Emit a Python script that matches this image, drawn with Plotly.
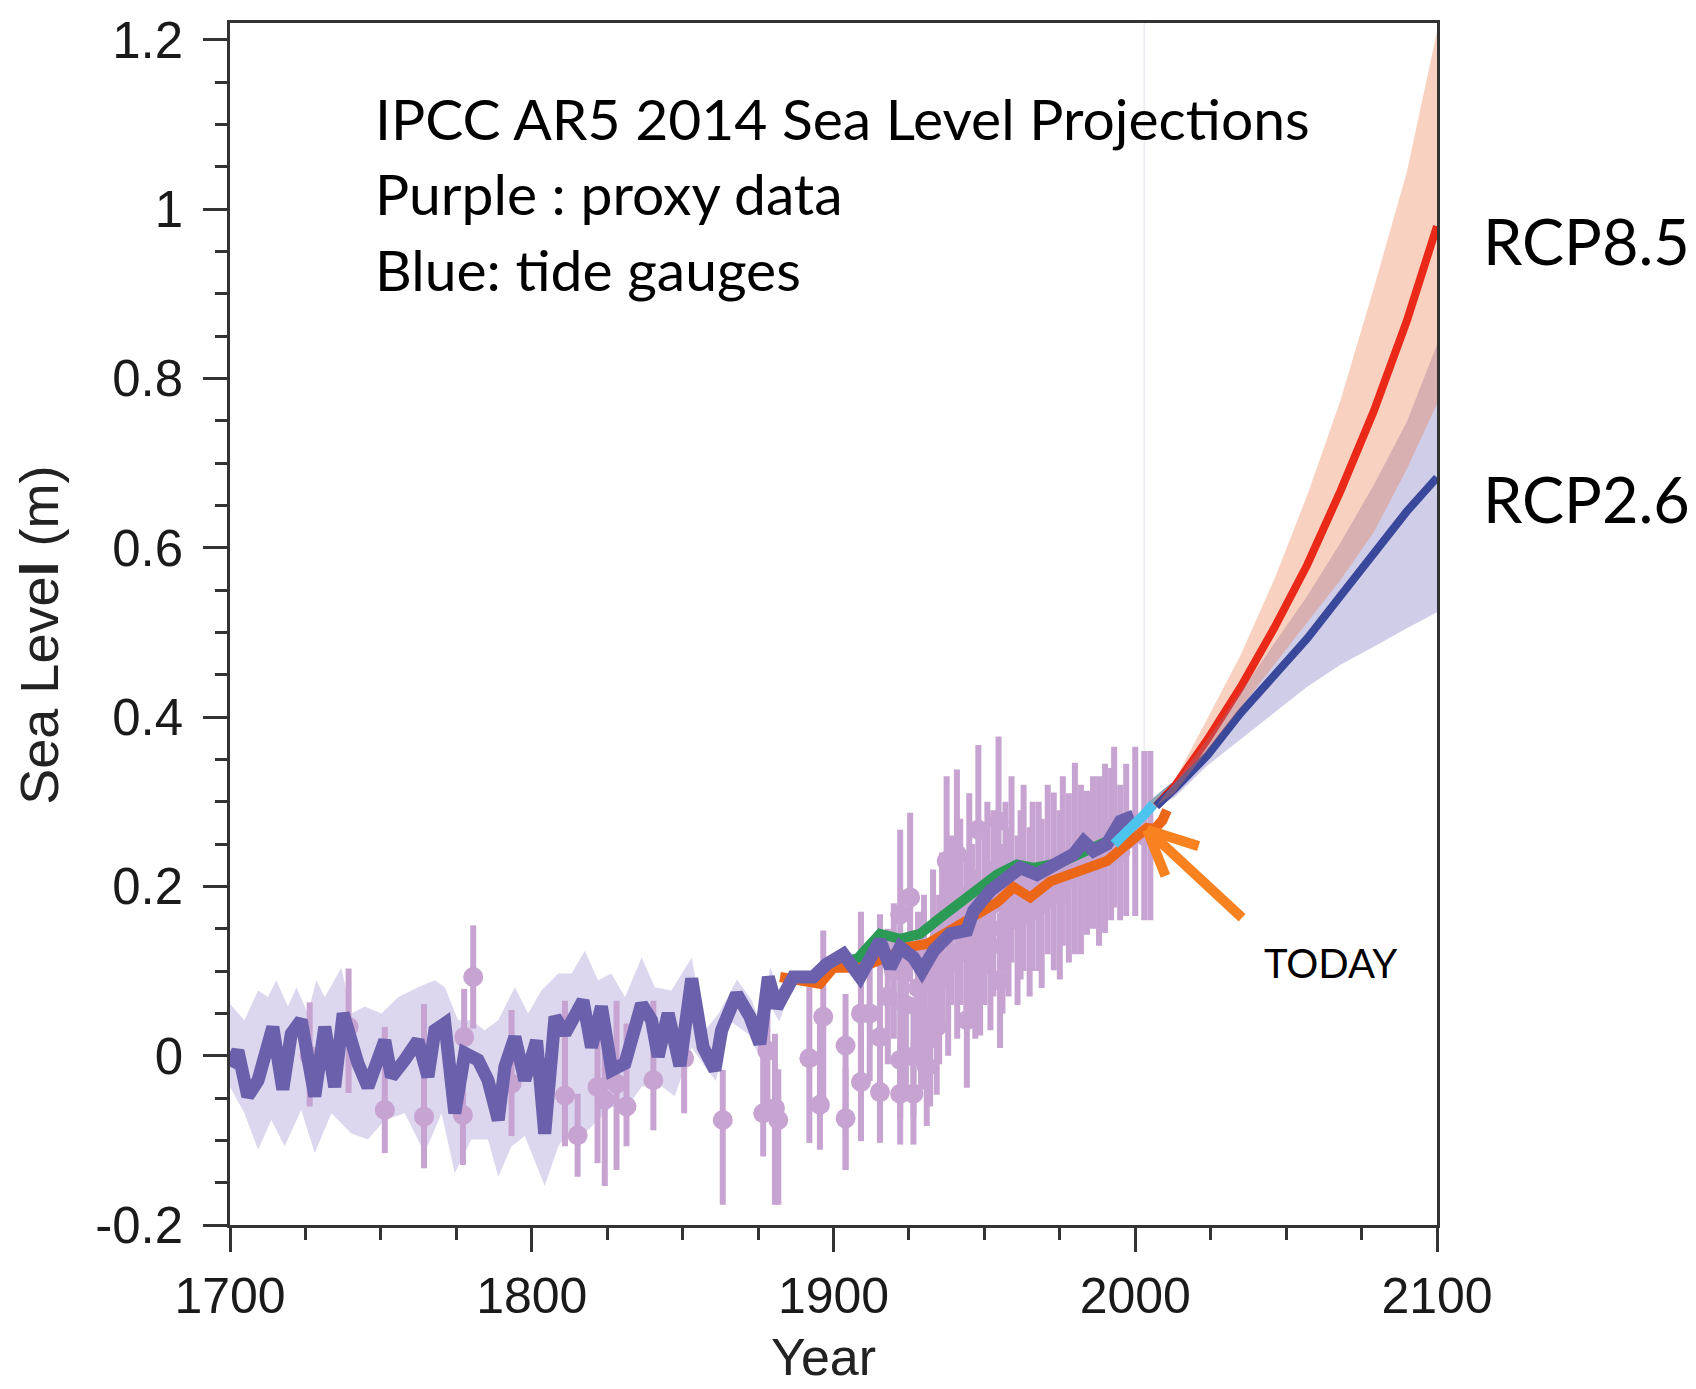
import plotly.graph_objects as go

# ---------------- data ----------------
# Reconstructed sea level (purple line)
recon_year = [1700.0, 1702.6, 1705.9, 1709.3, 1714.2, 1717.5, 1720.3, 1723.6, 1728.1, 1731.4,
              1734.7, 1737.5, 1742.4, 1745.7, 1751.3, 1753.5, 1757.9, 1762.3, 1765.6, 1767.9,
              1771.2, 1774.5, 1777.8, 1782.2, 1785.5, 1788.9, 1791.1, 1794.4, 1797.7, 1801.6,
              1804.3, 1807.7, 1811.0, 1817.0, 1819.8, 1823.1, 1826.5, 1830.9, 1836.4, 1839.7,
              1841.9, 1845.2, 1849.1, 1853.0, 1856.8, 1860.7, 1862.9, 1867.9, 1872.3, 1875.6,
              1878.4, 1881.2, 1886.7, 1893.3, 1897.7, 1903.3, 1908.8, 1915.4, 1918.8, 1922.1,
              1926.5, 1929.3, 1933.2, 1938.7, 1944.2, 1946.4, 1952.0, 1957.5, 1961.9, 1967.4,
              1973.0, 1979.6, 1982.9, 1986.2, 1990.6, 1995.1, 1999.5]
recon_sl = [-0.013, 0.006, -0.048, -0.029, 0.034, -0.040, 0.026, 0.042, -0.048, 0.034,
            -0.037, 0.050, -0.009, -0.037, 0.018, -0.025, -0.005, 0.018, -0.025, 0.030,
            0.038, -0.068, 0.003, -0.005, -0.029, -0.076, -0.013, 0.022, -0.029, 0.018,
            -0.092, 0.046, 0.026, 0.065, 0.010, 0.058, -0.017, -0.009, 0.061, 0.042,
            -0.001, 0.050, -0.012, 0.091, 0.010, -0.017, 0.030, 0.073, 0.046, 0.014,
            0.093, 0.057, 0.093, 0.093, 0.108, 0.120, 0.093, 0.136, 0.104, 0.128,
            0.116, 0.100, 0.124, 0.144, 0.148, 0.171, 0.195, 0.210, 0.222, 0.214,
            0.226, 0.238, 0.253, 0.242, 0.250, 0.277, 0.283]

# Uncertainty band of the reconstruction
band_up_year = [1700.0, 1704.8, 1709.3, 1712.6, 1715.3, 1719.2, 1722.0, 1725.8, 1728.6, 1731.4,
                1736.9, 1740.2, 1744.6, 1750.2, 1755.7, 1762.3, 1767.9, 1771.2, 1775.6, 1780.0,
                1784.4, 1788.9, 1794.4, 1798.8, 1803.2, 1808.8, 1813.2, 1817.6, 1822.0, 1826.4,
                1830.9, 1836.4, 1840.8, 1846.3, 1853.0, 1857.4, 1862.0, 1868.0, 1873.0, 1876.0,
                1879.0, 1882.0, 1886.0]
band_up = [0.061, 0.042, 0.077, 0.069, 0.089, 0.058, 0.081, 0.050, 0.089, 0.069,
           0.104, 0.050, 0.058, 0.050, 0.069, 0.081, 0.089, 0.081, 0.042, 0.042,
           0.030, 0.042, 0.081, 0.050, 0.077, 0.097, 0.097, 0.124, 0.089, 0.097,
           0.069, 0.116, 0.081, 0.077, 0.116, 0.030, 0.050, 0.090, 0.065, 0.035,
           0.105, 0.075, 0.100]
band_lo_year = [1700.0, 1704.8, 1709.3, 1713.7, 1718.1, 1723.6, 1728.1, 1733.6, 1740.2, 1745.7,
                1751.3, 1757.9, 1764.5, 1770.1, 1774.5, 1780.0, 1785.5, 1788.9, 1793.3, 1797.7,
                1804.3, 1808.8, 1813.2, 1817.6, 1822.0, 1826.4, 1830.9, 1836.4, 1841.9, 1847.4,
                1853.0, 1857.4, 1861.0, 1866.0, 1872.0, 1876.0, 1879.0, 1882.0, 1886.0]
band_lo = [-0.037, -0.068, -0.111, -0.076, -0.107, -0.064, -0.115, -0.068, -0.092, -0.099,
           -0.076, -0.068, -0.115, -0.068, -0.139, -0.099, -0.099, -0.143, -0.107, -0.095,
           -0.154, -0.107, -0.084, -0.092, -0.076, -0.060, -0.064, -0.037, -0.033, -0.048,
           0.010, -0.013, -0.030, 0.040, 0.025, -0.005, 0.060, 0.040, 0.080]

# Proxy data (salt-marsh etc.) with error bars
proxy_year = [1726.4, 1739.3, 1751.3, 1764.3, 1777.2, 1777.6, 1780.6, 1793.3, 1811.0, 1815.2,
              1821.8, 1824.2, 1828.1, 1831.4, 1840.3, 1850.5,
              1863.3, 1876.7, 1878.1, 1880.6, 1881.7, 1892.0, 1895.5, 1896.6, 1904.0, 1904.0,
              1909.1, 1909.1, 1912.0, 1915.4, 1915.4, 1918.0, 1920.0, 1922.1, 1922.1, 1922.1,
              1924.0, 1925.4, 1926.5, 1926.5, 1928.0, 1929.0, 1930.0, 1930.9, 1932.0, 1933.0,
              1934.2, 1935.0, 1936.0, 1937.5, 1938.0, 1939.0, 1940.9, 1941.0, 1942.0, 1944.0,
              1944.2, 1945.0, 1946.0, 1947.0, 1948.0, 1948.6, 1950.0, 1951.0, 1952.0, 1953.0,
              1954.7, 1955.2, 1956.0, 1957.0, 1958.0, 1959.0, 1961.0, 1962.0, 1963.0, 1965.0,
              1966.0, 1968.0, 1969.0, 1971.0, 1973.0, 1975.0, 1976.0, 1978.0, 1980.0, 1982.0,
              1984.0, 1986.0, 1988.0, 1990.0, 1992.0, 1993.0, 1995.0, 1997.0, 2000.0, 2003.0,
              2005.0]
proxy_sl = [0.000, 0.034, -0.064, -0.072, -0.070, 0.022, 0.093, -0.033, -0.047, -0.094,
            -0.037, -0.052, -0.033, -0.060, -0.029, -0.003,
            -0.076, -0.068, 0.006, -0.062, -0.076, -0.003, -0.058, 0.046, 0.012, -0.074,
            0.050, -0.031, 0.050, 0.022, -0.043, 0.070, 0.100, -0.005, -0.045, 0.167,
            0.060, 0.187, -0.001, -0.045, 0.080, 0.050, 0.100, -0.013, 0.020, 0.120,
            0.034, 0.090, 0.140, 0.230, 0.110, 0.160, 0.238, 0.120, 0.170, 0.140,
            0.042, 0.190, 0.150, 0.120, 0.267, 0.104, 0.160, 0.200, 0.130, 0.180,
            0.277, 0.089, 0.150, 0.200, 0.170, 0.220, 0.160, 0.190, 0.210, 0.170,
            0.200, 0.200, 0.180, 0.220, 0.206, 0.190, 0.230, 0.210, 0.233, 0.220,
            0.228, 0.240, 0.230, 0.245, 0.250, 0.270, 0.240, 0.255, 0.265, 0.260,
            0.260]
proxy_err_up = [0.063, 0.069, 0.098, 0.133, 0.096, 0.057, 0.061, 0.087, 0.112, 0.049,
                0.055, 0.062, 0.098, 0.098, 0.094, 0.045,
                0.059, 0.086, 0.059, 0.088, 0.060, 0.084, 0.100, 0.102, 0.061, 0.060,
                0.120, 0.060, 0.080, 0.145, 0.060, 0.080, 0.080, 0.070, 0.060, 0.100,
                0.080, 0.100, 0.070, 0.060, 0.090, 0.090, 0.090, 0.070, 0.080, 0.100,
                0.080, 0.100, 0.100, 0.100, 0.110, 0.100, 0.100, 0.100, 0.110, 0.100,
                0.080, 0.120, 0.100, 0.100, 0.100, 0.080, 0.100, 0.100, 0.100, 0.110,
                0.100, 0.080, 0.100, 0.100, 0.100, 0.110, 0.100, 0.100, 0.110, 0.100,
                0.100, 0.100, 0.100, 0.100, 0.105, 0.100, 0.100, 0.100, 0.113, 0.100,
                0.085, 0.090, 0.100, 0.100, 0.090, 0.095, 0.080, 0.090, 0.100, 0.100,
                0.100]
proxy_err_dn = [0.060, 0.078, 0.051, 0.061, 0.059, 0.050, 0.061, 0.062, 0.060, 0.049,
                0.090, 0.102, 0.102, 0.047, 0.059, 0.065,
                0.100, 0.051, 0.066, 0.114, 0.100, 0.100, 0.053, 0.108, 0.147, 0.060,
                0.080, 0.070, 0.080, 0.120, 0.060, 0.080, 0.080, 0.070, 0.060, 0.110,
                0.100, 0.100, 0.070, 0.060, 0.090, 0.090, 0.090, 0.070, 0.080, 0.100,
                0.080, 0.100, 0.100, 0.100, 0.110, 0.100, 0.100, 0.100, 0.110, 0.100,
                0.080, 0.120, 0.100, 0.100, 0.100, 0.080, 0.100, 0.100, 0.100, 0.110,
                0.100, 0.080, 0.100, 0.100, 0.100, 0.110, 0.100, 0.100, 0.110, 0.100,
                0.100, 0.100, 0.100, 0.100, 0.105, 0.100, 0.100, 0.100, 0.113, 0.100,
                0.085, 0.090, 0.100, 0.100, 0.090, 0.095, 0.080, 0.090, 0.100, 0.100,
                0.100]

# Tide-gauge reconstructions
green_year = [1900.0, 1904.0, 1908.0, 1915.4, 1922.1, 1928.7, 1935.4, 1942.0, 1947.5, 1954.2,
              1960.8, 1966.3, 1975.2, 1981.8, 1988.4, 1992.9]
green_sl = [0.105, 0.112, 0.115, 0.144, 0.138, 0.144, 0.163, 0.181, 0.199, 0.214,
            0.226, 0.222, 0.228, 0.238, 0.250, 0.257]
orange_year = [1882.3, 1888.0, 1895.5, 1900.0, 1908.8, 1917.6, 1924.3, 1931.0, 1938.7, 1946.4,
               1954.2, 1959.7, 1965.2, 1971.9, 1978.5, 1984.0, 1990.6, 1997.3, 2003.9, 2006.5,
               2009.0, 2010.5]
orange_sl = [0.093, 0.090, 0.085, 0.104, 0.104, 0.116, 0.128, 0.132, 0.148, 0.163,
             0.181, 0.199, 0.187, 0.206, 0.214, 0.222, 0.230, 0.250, 0.269, 0.268,
             0.278, 0.290]
# Satellite altimetry
sat_year = [1993.0, 1996.0, 2000.0, 2003.0, 2006.0]
sat_sl = [0.250, 0.260, 0.272, 0.285, 0.297]
sat2_year = [2006.0, 2009.5, 2013.0]
sat2_sl = [0.297, 0.308, 0.318]

# Projections
proj_year = [2007, 2013, 2024, 2035, 2046, 2057, 2068, 2079, 2090, 2100]
rcp85_mid = [0.295, 0.318, 0.374, 0.436, 0.505, 0.580, 0.667, 0.761, 0.868, 0.980]
rcp85_hi = [0.295, 0.325, 0.399, 0.474, 0.562, 0.662, 0.774, 0.906, 1.044, 1.210]
rcp85_lo = [0.295, 0.310, 0.361, 0.411, 0.462, 0.512, 0.562, 0.618, 0.693, 0.770]
rcp26_mid = [0.295, 0.315, 0.355, 0.405, 0.449, 0.493, 0.543, 0.593, 0.643, 0.683]
rcp26_hi = [0.295, 0.322, 0.374, 0.430, 0.487, 0.543, 0.606, 0.674, 0.749, 0.840]
rcp26_lo = [0.295, 0.305, 0.343, 0.374, 0.405, 0.436, 0.462, 0.483, 0.505, 0.524]

y_tickvals = [-0.2, 0, 0.2, 0.4, 0.6, 0.8, 1.0, 1.2]
y_ticktext = ["-0.2", "0", "0.2", "0.4", "0.6", "0.8", "1", "1.2"]
x_tickvals = [1700, 1800, 1900, 2000, 2100]
x_ticktext = ["1700", "1800", "1900", "2000", "2100"]

# ---------------- figure ----------------
fig = go.Figure()

# reconstruction band
fig.add_trace(go.Scatter(
    x=band_up_year + band_lo_year[::-1], y=band_up + band_lo[::-1],
    fill="toself", fillcolor="#dcd7ee", line=dict(width=0), mode="lines",
    hoverinfo="skip", showlegend=False))

# proxy data
fig.add_trace(go.Scatter(
    x=proxy_year, y=proxy_sl, mode="markers",
    marker=dict(size=20, color="#c6a3d1", line=dict(width=0)),
    error_y=dict(type="data", array=proxy_err_up, arrayminus=proxy_err_dn,
                 color="#c6a3d1", thickness=6, width=0),
    showlegend=False))

# tide gauges
fig.add_trace(go.Scatter(x=green_year, y=green_sl, mode="lines",
                         line=dict(color="#2a9a55", width=10), showlegend=False))
fig.add_trace(go.Scatter(x=orange_year, y=orange_sl, mode="lines",
                         line=dict(color="#ec6618", width=10), showlegend=False))
# reconstruction line
fig.add_trace(go.Scatter(x=recon_year, y=recon_sl, mode="lines",
                         line=dict(color="#6a60ab", width=13), showlegend=False))
# satellite
fig.add_trace(go.Scatter(x=sat_year, y=sat_sl, mode="lines",
                         line=dict(color="#4cc4ee", width=10), showlegend=False))
fig.add_trace(go.Scatter(x=sat2_year, y=sat2_sl, mode="lines",
                         line=dict(color="#90a9b3", width=10), showlegend=False))

# projections: red line, blue band, blue line, red band (translucent layering)
fig.add_trace(go.Scatter(x=proj_year, y=rcp85_mid, mode="lines",
                         line=dict(color="#e80000", width=8), showlegend=False))
fig.add_trace(go.Scatter(
    x=proj_year + proj_year[::-1], y=rcp26_hi + rcp26_lo[::-1],
    fill="toself", fillcolor="rgba(118,112,189,0.35)", line=dict(width=0),
    mode="lines", hoverinfo="skip", showlegend=False))
fig.add_trace(go.Scatter(x=proj_year, y=rcp26_mid, mode="lines",
                         line=dict(color="#3a489c", width=8), showlegend=False))
fig.add_trace(go.Scatter(
    x=proj_year + proj_year[::-1], y=rcp85_hi + rcp85_lo[::-1],
    fill="toself", fillcolor="rgba(236,120,70,0.34)", line=dict(width=0),
    mode="lines", hoverinfo="skip", showlegend=False))

# faint divider line
fig.add_shape(type="line", xref="x", yref="y", x0=2003, x1=2003, y0=0.3, y1=1.22,
              line=dict(color="#ececf2", width=1.5), layer="below")

# orange arrow pointing at "today"
arrow_col = "#f7821f"
for (xa, ya, xb, yb) in [(2035.4, 0.163, 2003.9, 0.267),
                         (2003.9, 0.267, 2021.0, 0.2476),
                         (2003.9, 0.267, 2010.0, 0.2124)]:
    fig.add_shape(type="line", xref="x", yref="y", x0=xa, y0=ya, x1=xb, y1=yb,
                  line=dict(color=arrow_col, width=10))

txt_font = "Lato, 'Open Sans', sans-serif"
ann = []
for txt, yy in [("IPCC AR5 2014 Sea Level Projections", 0.9212),
                ("Purple : proxy data", 0.8583),
                ("Blue: tide gauges", 0.7953)]:
    ann.append(dict(text=txt, xref="paper", yref="paper", x=0.1182, y=yy,
                    xanchor="left", yanchor="middle", showarrow=False,
                    font=dict(family=txt_font, size=57, color="#000000")))
ann.append(dict(text="RCP8.5", xref="paper", yref="paper", x=1.0362, y=0.8191,
                xanchor="left", yanchor="middle", showarrow=False,
                font=dict(family=txt_font, size=63, color="#000000")))
ann.append(dict(text="RCP2.6", xref="paper", yref="paper", x=1.0362, y=0.6044,
                xanchor="left", yanchor="middle", showarrow=False,
                font=dict(family=txt_font, size=63, color="#000000")))
ann.append(dict(text="TODAY", xref="paper", yref="paper", x=0.8554, y=0.2183,
                xanchor="left", yanchor="middle", showarrow=False,
                font=dict(family=txt_font, size=40, color="#000000")))
# axis titles
axis_font = "'Liberation Sans', Arial, sans-serif"
ann.append(dict(text="Year", xref="paper", yref="paper", x=0.4914, y=-0.1100,
                xanchor="center", yanchor="middle", showarrow=False,
                font=dict(family=axis_font, size=52, color="#222222")))
ann.append(dict(text="Sea Leve<b>l</b> (m)", xref="paper", yref="paper", x=-0.158,
                y=0.4905, xanchor="center", yanchor="middle", textangle=-90,
                showarrow=False, font=dict(family=axis_font, size=54, color="#222222")))

fig.update_layout(
    width=1696, height=1389,
    margin=dict(l=230, r=259, t=18, b=164),
    paper_bgcolor="white", plot_bgcolor="white",
    annotations=ann,
    showlegend=False,
)

fig.update_xaxes(
    range=[1700, 2100], tickmode="array", tickvals=x_tickvals, ticktext=x_ticktext,
    ticks="outside", ticklen=24, tickwidth=2.5, tickcolor="#333333",
    showline=True, linewidth=2.5, linecolor="#333333", mirror=True,
    showgrid=False, zeroline=False,
    tickfont=dict(family=axis_font, size=50, color="#1a1a1a"),
    ticklabelstandoff=1,
    minor=dict(tick0=1700, dtick=25, ticks="outside", ticklen=12, tickwidth=2.5,
               tickcolor="#333333", showgrid=False),
)
fig.update_yaxes(
    range=[-0.2, 1.22], tickmode="array", tickvals=y_tickvals, ticktext=y_ticktext,
    ticks="outside", ticklen=24, tickwidth=2.5, tickcolor="#333333",
    showline=True, linewidth=2.5, linecolor="#333333", mirror=True,
    showgrid=False, zeroline=False,
    tickfont=dict(family=axis_font, size=51, color="#1a1a1a"),
    ticklabelstandoff=10,
    minor=dict(tick0=0, dtick=0.05, ticks="outside", ticklen=12, tickwidth=2.5,
               tickcolor="#333333", showgrid=False),
)

fig.write_html("out.html")
